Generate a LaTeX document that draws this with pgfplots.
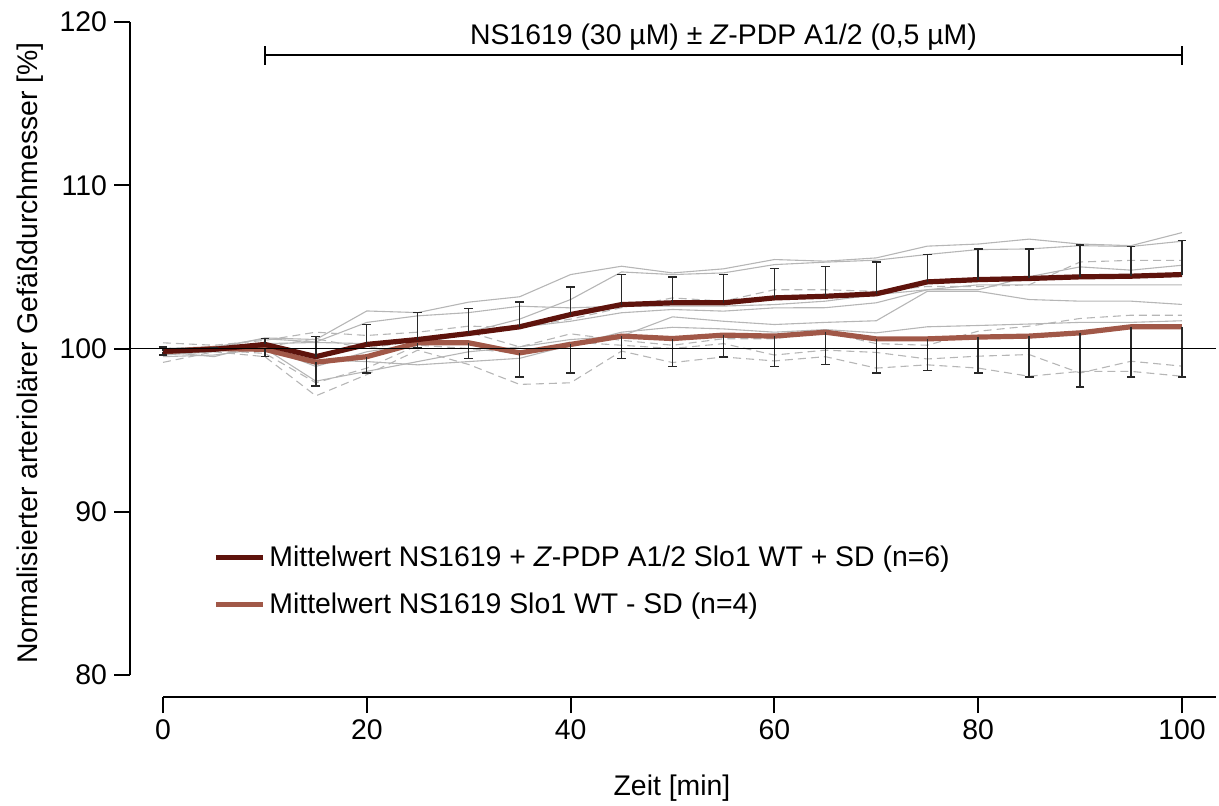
\documentclass[border=0pt]{standalone}
\usepackage{fontspec}
\setmainfont{Liberation Sans}
\usepackage{pgfplots}
\usepackage{pgfplotstable}
\pgfplotsset{compat=1.18}
\definecolor{darkmean}{RGB}{94,19,12}
\definecolor{lightmean}{RGB}{161,88,72}
\definecolor{trace}{RGB}{182,182,182}
\definecolor{bar}{RGB}{40,40,40}

\pgfplotstableread{
t   S1     S2     S3     S4     S5     S6     D1     D2     D3     D4
0   99.9   99.6   100.0  99.7   99.5   99.8   100.35 100.0  99.7   99.15
5   100.0  99.8   100.1  99.9   99.6   99.5   100.2  100.1  99.9   99.8
10  100.65 100.3  100.6  100.1  100.0  100.3  100.5  100.1  99.7   99.5
15  100.55 100.37 100.4  98.9   98.0   99.3   101.0  100.6  97.9   97.1
20  102.3  100.3  101.6  99.8   98.6   99.2   100.8  100.0  98.8   98.4
25  102.2  100.6  102.0  100.3  99.2   99.0   101.0  100.5  100.2  99.9
30  102.84 101.0  102.2  100.9  99.8   99.2   101.37 101.0  100.0  99.02
35  103.17 101.8  102.59 101.3  100.1  99.4   101.3  100.1  99.7   97.8
40  104.53 103.0  102.49 101.67 100.55 100.2  101.8  100.9  100.4  97.9
45  105.04 104.69 102.6  102.19 100.76 101.0  102.5  100.5  100.2  99.84
50  104.63 104.53 102.6  102.39 101.94 101.3  103.1  100.2  100.0  99.14
55  104.88 104.63 102.6  102.29 101.67 101.2  102.9  100.6  100.3  99.48
60  105.45 105.14 102.69 102.49 101.47 101.0  103.6  100.6  99.6   99.24
65  105.35 105.29 102.9  102.5  101.6  101.16 103.6  101.0  99.9   99.5
70  105.55 105.41 103.3  102.8  101.7  100.96 103.5  100.3  99.76  98.8
75  106.27 105.76 103.6  103.6  103.5  101.33 103.8  100.2  99.36  99.0
80  106.4  106.06 103.6  103.9  103.5  101.41 103.8  101.06 99.53  98.8
85  106.7  106.1  104.4  103.9  103.0  101.5  103.9  101.37 99.63  98.3
90  106.4  106.3  105.0  103.9  102.9  101.6  105.3  101.84 98.5   98.6
95  106.3  106.25 104.8  103.9  102.9  101.6  105.4  102.04 99.22  98.6
100 107.1  106.57 105.1  103.9  102.7  101.7  105.4  102.04 98.92  98.3
}\traces

\pgfplotstableread{
t   M1     SD1   M2     SD2
0   99.83  0.27  99.8   0.2
5   99.95  0.1   100.0  0.1
10  100.25 0.35  99.95  0.45
15  99.5   1.23  99.16  1.46
20  100.25 1.22  99.5   1.0
25  100.55 1.65  100.35 0.3
30  100.92 1.53  100.35 0.98
35  101.33 1.51  99.73  1.47
40  102.08 1.68  100.25 1.75
45  102.69 1.84  100.76 1.37
50  102.8  1.59  100.61 1.73
55  102.8  1.73  100.82 1.33
60  103.1  1.8   100.76 1.88
65  103.2  1.82  101.0  1.98
70  103.35 1.94  100.59 2.09
75  104.08 1.68  100.59 1.94
80  104.22 1.88  100.7  2.2
85  104.29 1.81  100.76 2.5
90  104.39 1.96  100.96 3.31
95  104.43 1.82  101.33 3.07
100 104.53 2.07  101.33 3.07
}\means

\begin{document}
\begin{tikzpicture}[font=\fontsize{14.2}{17}\selectfont]
\useasboundingbox (0,0) rectangle (609.5pt,402.5pt);
\begin{axis}[
  scale only axis, width=526.5pt, height=326.5pt,
  at={(81.5pt,65pt)}, anchor=south west,
  xmin=0, xmax=103.34, ymin=80, ymax=120,
  axis lines=left,
  axis line style={-, black, line width=1pt},
  axis y line shift=16.5pt,
  axis x line shift=11pt,
  xtick={0,20,...,100}, ytick={80,90,...,120},
  tick align=outside, major tick length=8pt,
  tick style={black, line width=1pt},
  /pgf/number format/assume math mode=true,
  tick label style={font=\fontsize{14.2}{17}\selectfont},
  clip=false,
  legend style={at={(axis cs:4.3,88.45)}, anchor=north west, draw=none, fill=none,
    font=\fontsize{14.2}{17}\selectfont, row sep=8pt, cells={anchor=west}},
  legend image code/.code={\draw[#1, line width=2.6pt] (0pt,0pt) -- (23.5pt,0pt);},
]
\addlegendimage{darkmean}
\addlegendentry{Mittelwert NS1619 + \textit{Z}-PDP A1/2 Slo1 WT + SD (n=6)}
\addlegendimage{lightmean}
\addlegendentry{Mittelwert NS1619 Slo1 WT - SD (n=4)}

\foreach \c in {S1,S2,S3,S4,S5,S6}{
  \addplot[trace, line width=0.55pt, forget plot] table[x=t, y=\c] {\traces};
}
\foreach \c in {D1,D2,D3,D4}{
  \addplot[trace, line width=0.55pt, dash pattern=on 4pt off 2.5pt, forget plot] table[x=t, y=\c] {\traces};
}

\addplot[lightmean, line width=2.6pt, forget plot,
  error bars/.cd, y dir=minus, y explicit,
  error bar style={bar, line width=0.7pt, solid},
  error mark options={bar, line width=0.7pt, mark size=2.2pt, rotate=90}]
  table[x=t, y=M2, y error=SD2] {\means};
\addplot[darkmean, line width=2.6pt, forget plot,
  error bars/.cd, y dir=plus, y explicit,
  error bar style={bar, line width=0.7pt, solid},
  error mark options={bar, line width=0.7pt, mark size=2.2pt, rotate=90}]
  table[x=t, y=M1, y error=SD1] {\means};

\draw[black, line width=0.7pt] (axis cs:-3.24,100) -- (axis cs:103.34,100);

\draw[black, line width=0.7pt] (axis cs:10,117.98) -- (axis cs:100,117.98);
\draw[black, line width=0.7pt] (axis cs:10,118.53) -- (axis cs:10,117.37);
\draw[black, line width=0.7pt] (axis cs:100,118.53) -- (axis cs:100,117.37);
\node[anchor=base] at (axis cs:55,118.6) {NS1619 (30 µM) ± \textit{Z}-PDP A1/2 (0,5 µM)};
\end{axis}
\node[rotate=90] at (15pt,226pt) {Normalisierter arteriolärer Gefäßdurchmesser [\%]};
\node at (336pt,8.5pt) {Zeit [min]};
\end{tikzpicture}
\end{document}
